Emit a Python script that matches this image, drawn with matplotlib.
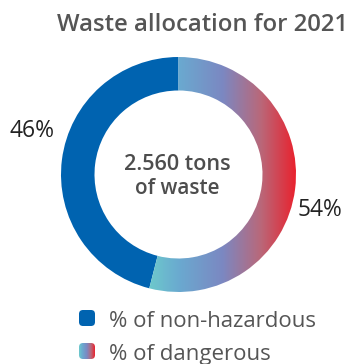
import numpy as np
import matplotlib
matplotlib.use("Agg")
import matplotlib.pyplot as plt
from matplotlib.colors import LinearSegmentedColormap
from matplotlib.patches import FancyBboxPatch

# Data
categories = ["% of non-hazardous", "% of dangerous"]
shares = [46, 54]
share_labels = ["46%", "54%"]
title = "Waste allocation for 2021"
center_lines = ["2.560 tons", "of waste"]

BLUE = "#0063b0"
GRAD_STOPS = [(0.0, "#6dc9cc"), (0.2, "#6aaad0"), (0.5, "#7b88c2"),
              (0.76, "#b9687a"), (1.0, "#e9222e")]
grad_cmap = LinearSegmentedColormap.from_list("danger", GRAD_STOPS)

plt.rcParams["font.family"] = ["Open Sans", "DejaVu Sans"]

W, H = 357, 364
fig = plt.figure(figsize=(W / 100, H / 100), dpi=100)
ax = fig.add_axes([0, 0, 1, 1])

cx, cy = 178.5, H - 174.5
R, ring = 117.5, 33.5

wedges, _ = ax.pie(shares, startangle=90, counterclock=True,
                   colors=[BLUE, "none"], center=(cx, cy), radius=R,
                   wedgeprops=dict(width=ring, linewidth=0))
ax.set_xlim(0, W)
ax.set_ylim(0, H)
ax.set_aspect("equal")
ax.axis("off")

# Horizontal gradient fill of the second segment
grad = np.linspace(0, 1, 256).reshape(1, -1)
img = ax.imshow(grad, cmap=grad_cmap, extent=(149, cx + R, cy - R, cy + R),
                aspect="auto", interpolation="bilinear", zorder=2)
img.set_clip_path(wedges[1])
ax.set_xlim(0, W)
ax.set_ylim(0, H)

fig.canvas.draw()
renderer = fig.canvas.get_renderer()


def fit_text(x, y, s, width, size, ha="left", **kw):
    t = ax.text(x, y, s, fontsize=size, ha=ha, va="baseline", **kw)
    w = t.get_window_extent(renderer).width
    t.set_fontsize(size * width / w)
    return t


fit_text(57, H - 31, title, 291, 16, color="#555555", weight="semibold")
fit_text(cx - 1, H - 170, center_lines[0], 108, 14, ha="center",
         color="#4d4d4d", weight="semibold")
fit_text(cx - 1, H - 194, center_lines[1], 85, 14, ha="center",
         color="#4d4d4d", weight="semibold")
fit_text(10, H - 137, share_labels[0], 45, 15, color="#222222")
fit_text(298, H - 216, share_labels[1], 45, 15, color="#222222")

# Legend
legend_rows = [(H - 327, 208), (H - 360, 163)]
for i, (name, (yb, tw)) in enumerate(zip(categories, legend_rows)):
    box = FancyBboxPatch((79, yb + 1), 16, 16,
                         boxstyle="round,pad=0,rounding_size=4",
                         facecolor=BLUE if i == 0 else "none",
                         edgecolor="none", zorder=3)
    ax.add_patch(box)
    if i == 1:
        gi = ax.imshow(np.linspace(0, 1, 64).reshape(1, -1), cmap=grad_cmap,
                       extent=(79, 95, yb + 1, yb + 17), aspect="auto",
                       interpolation="bilinear", zorder=3)
        gi.set_clip_path(box)
    fit_text(109, yb, name, tw, 14, color="#555555")

ax.set_xlim(0, W)
ax.set_ylim(0, H)
fig.savefig("out.png", dpi=100)
